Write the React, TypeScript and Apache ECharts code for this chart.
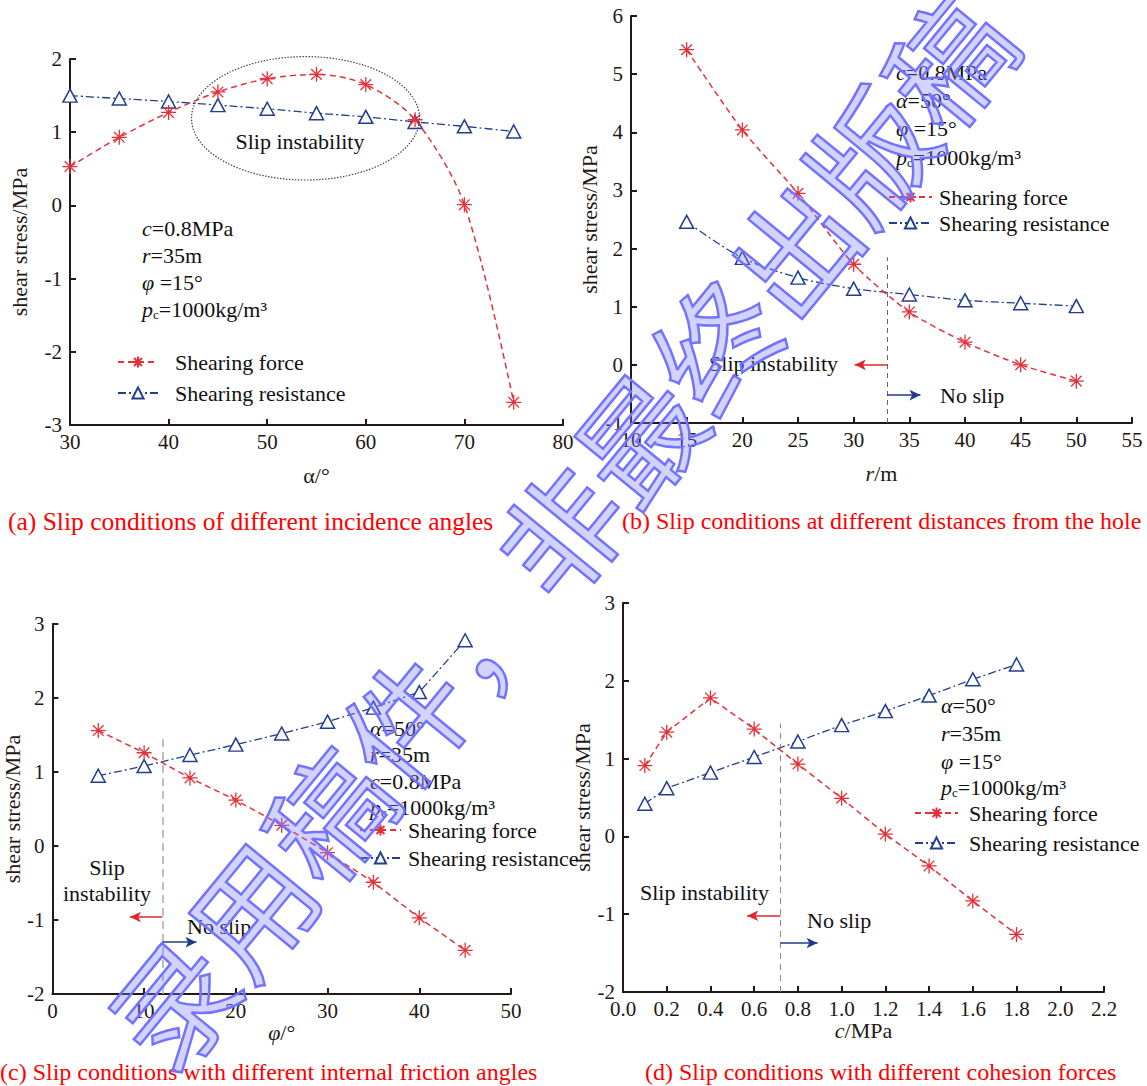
import React, { useEffect, useRef } from "react";
import * as echarts from "echarts";

// ---------- data ----------
const alphaDeg = [30, 35, 40, 45, 50, 55, 60, 65, 70, 75];
const forceA = [0.53, 0.93, 1.27, 1.55, 1.73, 1.79, 1.65, 1.17, 0.01, -2.69];
const resistA = [1.5, 1.46, 1.42, 1.37, 1.32, 1.26, 1.21, 1.14, 1.08, 1.01];

const rDist = [15, 20, 25, 30, 35, 40, 45, 50];
const forceB = [5.42, 4.04, 2.95, 1.73, 0.91, 0.39, 0.0, -0.28];
const resistB = [2.46, 1.84, 1.5, 1.31, 1.21, 1.11, 1.06, 1.01];

const phiDeg = [5, 10, 15, 20, 25, 30, 35, 40, 45];
const forceC = [1.56, 1.26, 0.92, 0.62, 0.28, -0.09, -0.49, -0.97, -1.41];
const resistC = [0.95, 1.08, 1.23, 1.37, 1.52, 1.68, 1.87, 2.08, 2.78];

const cohesion = [0.1, 0.2, 0.4, 0.6, 0.8, 1.0, 1.2, 1.4, 1.6, 1.8];
const forceD = [0.91, 1.34, 1.78, 1.38, 0.93, 0.49, 0.03, -0.38, -0.83, -1.26];
const resistD = [0.42, 0.62, 0.82, 1.02, 1.22, 1.43, 1.61, 1.81, 2.02, 2.21];

const seriesNames = ["Shearing force", "Shearing resistance"];
const captions = [
  "(a) Slip conditions of different incidence angles",
  "(b) Slip conditions at different distances from the hole",
  "(c) Slip conditions with different internal friction angles",
  "(d) Slip conditions with different cohesion forces",
];
const watermark = "录用稿件，非最终出版稿";

// ---------- styles ----------
const SERIF = "Liberation Serif";
const AXIS = "#231815";
const RED = "#e5323a";
const BLUE = "#223e8e";
const CAPTION = "#ff0000";
const STAR =
  "path://M10,0L10,20M0,10L20,10M2.93,2.93L17.07,17.07M17.07,2.93L2.93,17.07M8.6,8.6L11.4,8.6L11.4,11.4L8.6,11.4Z";

const grids = [
  { left: 70, top: 59, width: 493, height: 366 },
  { left: 631, top: 16, width: 501, height: 407 },
  { left: 52, top: 624, width: 459, height: 370 },
  { left: 623, top: 603, width: 481, height: 389 },
];

const nameRich = {
  i: { fontStyle: "italic", fontFamily: SERIF, fontSize: 22, color: AXIS },
  n: { fontFamily: SERIF, fontSize: 22, color: AXIS },
};

function xAxis(idx: number, min: number, max: number, interval: number, name: string, gap: number, fmt?: (v: number) => string) {
  return {
    type: "value",
    gridIndex: idx,
    min,
    max,
    interval,
    name,
    nameLocation: "middle",
    nameGap: gap,
    nameTextStyle: { fontFamily: SERIF, fontSize: 22, color: AXIS, rich: nameRich },
    axisLine: { show: true, onZero: false, lineStyle: { color: AXIS, width: 2 } },
    axisTick: { show: true, inside: true, length: 6, lineStyle: { color: AXIS, width: 2 } },
    axisLabel: {
      fontFamily: SERIF,
      fontSize: 21,
      color: AXIS,
      margin: 6,
      showMinLabel: true,
      showMaxLabel: true,
      formatter: fmt,
    },
    splitLine: { show: false },
  };
}

function yAxis(idx: number, min: number, max: number, gap: number) {
  return {
    type: "value",
    gridIndex: idx,
    min,
    max,
    interval: 1,
    name: "shear stress/MPa",
    nameLocation: "middle",
    nameRotate: 90,
    nameGap: gap,
    nameTextStyle: { fontFamily: SERIF, fontSize: 22, color: AXIS },
    axisLine: { show: true, onZero: false, lineStyle: { color: AXIS, width: 2 } },
    axisTick: { show: true, inside: true, length: 6, lineStyle: { color: AXIS, width: 2 } },
    axisLabel: { fontFamily: SERIF, fontSize: 21, color: AXIS, margin: 8 },
    splitLine: { show: false },
  };
}

function pairs(xs: number[], ys: number[]) {
  return xs.map((x, i) => [x, ys[i]]);
}

function forceSeries(idx: number, xs: number[], ys: number[], smooth: number, markLine?: any) {
  return {
    name: seriesNames[0],
    type: "line",
    xAxisIndex: idx,
    yAxisIndex: idx,
    data: pairs(xs, ys),
    smooth,
    symbol: STAR,
    symbolSize: 15,
    itemStyle: { color: RED, borderColor: RED, borderWidth: 1.3 },
    lineStyle: { color: RED, width: 1.5, type: [6, 4] },
    z: 4,
    markLine,
  };
}

function resistSeries(idx: number, xs: number[], ys: number[], smooth: number) {
  return {
    name: seriesNames[1],
    type: "line",
    xAxisIndex: idx,
    yAxisIndex: idx,
    data: pairs(xs, ys),
    smooth,
    symbol: "triangle",
    symbolSize: [14, 13],
    itemStyle: { color: "#ffffff", borderColor: BLUE, borderWidth: 1.5 },
    lineStyle: { color: BLUE, width: 1.3, type: [8, 3, 2, 3] },
    z: 3,
  };
}

function divider(x: number, y0: number, y1: number, color: string, dash: number[], width: number) {
  return [
    { coord: [x, y0], symbol: "none", lineStyle: { color, type: dash, width } },
    { coord: [x, y1], symbol: "none" },
  ];
}

function arrow(x0: number, x1: number, y: number, color: string) {
  return [
    { coord: [x0, y], symbol: "none", lineStyle: { color, type: "solid", width: 1.6 } },
    { coord: [x1, y], symbol: "arrow", symbolSize: [8, 11] },
  ];
}

function markLines(items: any[]) {
  return {
    silent: true,
    animation: false,
    symbol: ["none", "none"],
    label: { show: false },
    emphasis: { disabled: true },
    data: items,
  };
}

function legend(left: number, top: number, gap: number, textPad: number, iw: number) {
  return {
    orient: "vertical",
    left,
    top,
    padding: 0,
    itemGap: gap,
    itemWidth: iw,
    itemHeight: 14,
    selectedMode: false,
    data: seriesNames,
    textStyle: { fontFamily: SERIF, fontSize: 22, color: "#111", padding: [0, 0, 0, textPad] },
  };
}

const annoRich = {
  i: { fontStyle: "italic", fontFamily: SERIF, fontSize: 22, fill: "#111", lineHeight: 24 },
  n: { fontFamily: SERIF, fontSize: 22, fill: "#111", lineHeight: 24 },
  s: { fontFamily: SERIF, fontSize: 13, fill: "#111", verticalAlign: "bottom", lineHeight: 6 },
};

const P_C = "{i|p}{s|c}{n|=1000kg/m³}";
const C_08 = "{i|c}{n|=0.8MPa}";
const R_35 = "{i|r}{n|=35m}";
const PHI_15 = "{i|φ}{n| =15°}";
const A_50 = "{i|α}{n|=50°}";

function annoBlock(x: number, ys: number[], lines: string[]) {
  return lines.map((t, i) => ({
    type: "text",
    x,
    y: ys[i],
    z: 20,
    style: { text: t, rich: annoRich, verticalAlign: "middle", align: "left" },
  }));
}

function plainText(x: number, y: number, text: string, align: string, color = "#111", size = 22) {
  return {
    type: "text",
    x,
    y,
    z: 20,
    style: {
      text,
      fill: color,
      font: `${size}px "${SERIF}"`,
      fontFamily: SERIF,
      fontSize: size,
      align,
      verticalAlign: "middle",
    },
  };
}

export default function App() {
  const ref = useRef<HTMLDivElement>(null);

  useEffect(() => {
    if (!ref.current) return;
    const chart = echarts.init(ref.current, undefined, { renderer: "svg" });

    const option: any = {
      animation: false,
      backgroundColor: "#ffffff",
      textStyle: { fontFamily: SERIF },
      grid: grids.map((g) => ({ ...g, containLabel: false })),
      xAxis: [
        xAxis(0, 30, 80, 10, "α/°", 39),
        xAxis(1, 10, 55, 5, "{i|r}/m", 39),
        xAxis(2, 0, 50, 10, "{i|φ}/°", 25),
        xAxis(3, 0, 2.2, 0.2, "{i|c}/MPa", 27, (v: number) => v.toFixed(1)),
      ],
      yAxis: [yAxis(0, -3, 2, 40), yAxis(1, -1, 6, 31), yAxis(2, -2, 3, 22), yAxis(3, -2, 3, 23)],
      legend: [legend(117, 351, 9, 12, 40), legend(888, 186, 4, 2, 43), legend(359, 819, 6, 2, 41), legend(914, 802, 8, 6, 43)],
      series: [
        forceSeries(0, alphaDeg, forceA, 0.3),
        resistSeries(0, alphaDeg, resistA, 0.2),
        forceSeries(
          1,
          rDist,
          forceB,
          0.25,
          markLines([
            divider(33, -1, 1.85, "#666", [5, 4], 1),
            arrow(33, 30.1, 0, "#e0262c"),
            arrow(33, 36, -0.52, "#1f3b8c"),
          ])
        ),
        resistSeries(1, rDist, resistB, 0.3),
        forceSeries(
          2,
          phiDeg,
          forceC,
          0,
          markLines([
            divider(12, -2, 1.45, "#aaaaaa", [8, 5], 1.5),
            arrow(12, 8.45, -0.96, "#e0262c"),
            arrow(12, 15.7, -1.3, "#1f3b8c"),
          ])
        ),
        resistSeries(2, phiDeg, resistC, 0),
        forceSeries(
          3,
          cohesion,
          forceD,
          0,
          markLines([
            divider(0.72, -2, 1.45, "#888888", [6, 5], 1),
            arrow(0.72, 0.568, -1.02, "#e0262c"),
            arrow(0.72, 0.89, -1.37, "#1f3b8c"),
          ])
        ),
        resistSeries(3, cohesion, resistD, 0),
      ],
      graphic: [
        {
          type: "ellipse",
          z: 10,
          shape: { cx: 305.5, cy: 118.3, rx: 114, ry: 61.7 },
          style: { fill: "none", stroke: "#444", lineWidth: 1.2, lineDash: [1.5, 1.5] },
        },
        plainText(300, 141, "Slip instability", "center"),
        ...annoBlock(142, [228, 255, 282, 309], [C_08, R_35, PHI_15, P_C]),
        ...annoBlock(896, [72, 100, 128, 157], [C_08, A_50, PHI_15, P_C]),
        ...annoBlock(370, [728, 754, 781, 807], [A_50, R_35, C_08, P_C]),
        ...annoBlock(941, [705, 733, 761, 787], [A_50, R_35, PHI_15, P_C]),
        plainText(838, 363, "Slip instability", "right"),
        plainText(940, 395, "No slip", "left"),
        plainText(107, 867, "Slip", "center"),
        plainText(107, 893, "instability", "center"),
        plainText(187, 926, "No slip", "left"),
        plainText(640, 892, "Slip instability", "left"),
        plainText(807, 920, "No slip", "left"),
        plainText(8, 521, captions[0], "left", CAPTION, 25.5),
        plainText(622, 521, captions[1], "left", CAPTION, 24),
        plainText(0, 1072, captions[2], "left", CAPTION, 24),
        plainText(645, 1072, captions[3], "left", CAPTION, 24),
        {
          type: "text",
          x: 557,
          y: 529,
          rotation: (50.6 * Math.PI) / 180,
          z: 100,
          silent: true,
          style: {
            text: watermark,
            fill: "rgba(128,128,255,0.35)",
            stroke: "#7070ff",
            lineWidth: 2.5,
            fontFamily: "Noto Sans CJK SC",
            fontSize: 122,
            font: '122px "Noto Sans CJK SC"',
            align: "center",
            verticalAlign: "middle",
          },
        },
      ],
    };

    chart.setOption(option);
    return () => chart.dispose();
  }, []);

  return (
    <div
      ref={ref}
      style={{ position: "absolute", left: 0, top: 0, width: 1147, height: 1086, background: "#fff" }}
    />
  );
}
